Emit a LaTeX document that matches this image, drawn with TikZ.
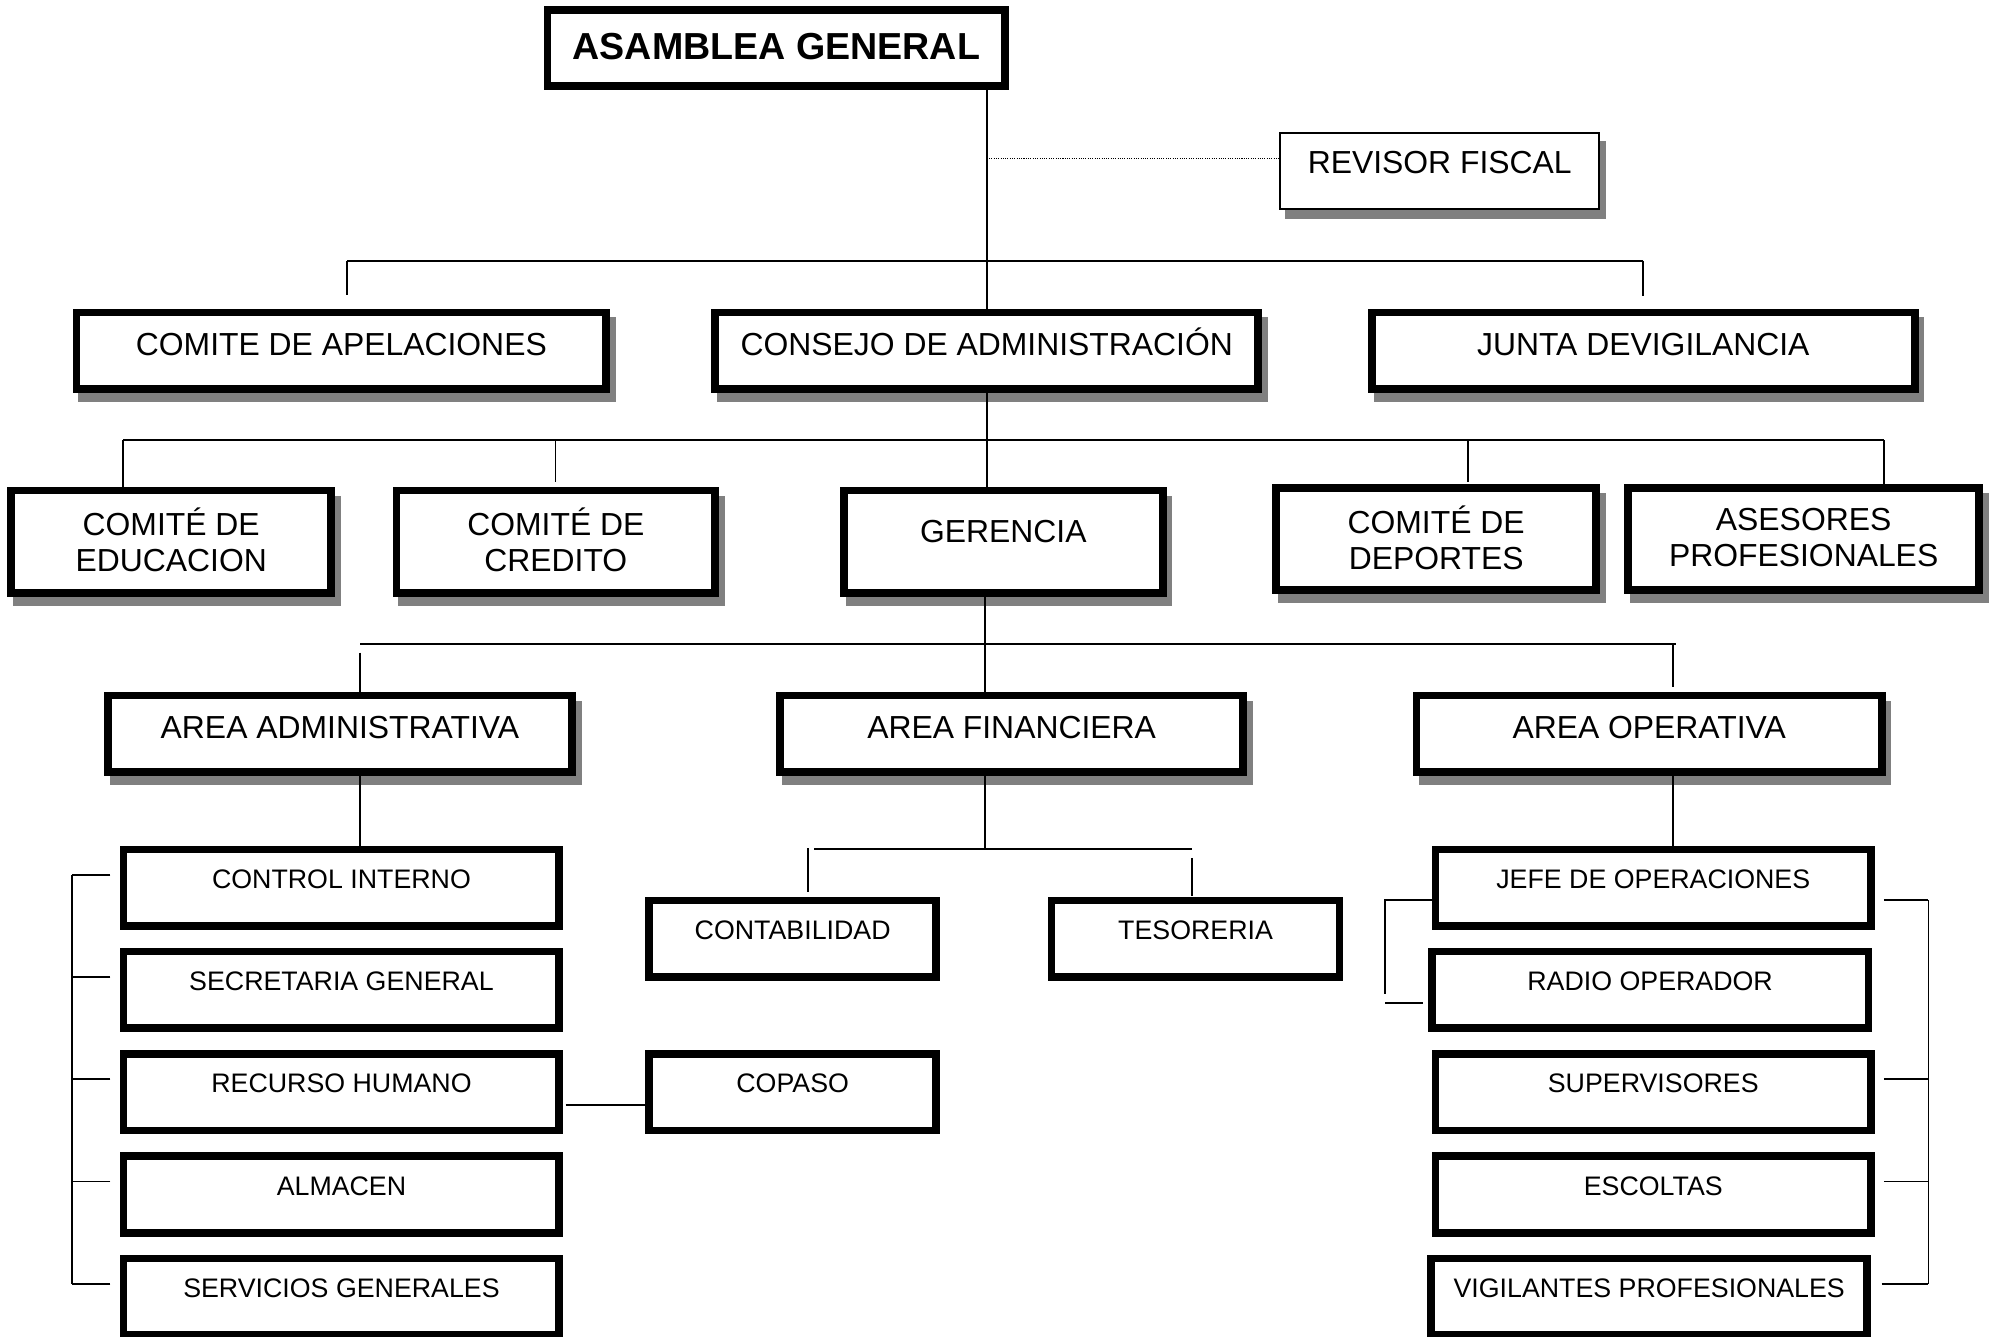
\documentclass[tikz,border=0pt]{standalone}
\usepackage{fontspec}
\setmainfont{Liberation Sans}
\usetikzlibrary{backgrounds}
\definecolor{shadowgray}{RGB}{128,128,128}
\tikzset{
  boxbase/.style={draw, fill=white, inner sep=0pt, align=center, text=black},
  heavybox/.style={boxbase, line width=6pt},
  lbl25/.style={font=\fontsize{25}{29}\selectfont, text height=18.9pt, text depth=11pt},
  lbl25two/.style={font=\fontsize{25}{28.3}\selectfont},
  lbl21/.style={font=\fontsize{21}{25}\selectfont, text height=16pt, text depth=15pt},
  conn/.style={line width=1.4pt},
  dotline/.style={line width=0.8pt, densely dotted},
}
\newcommand\boxshadow[1]{\fill[shadowgray] ([xshift=4.5pt,yshift=-7pt]#1.north west) rectangle ([xshift=4.5pt,yshift=-7pt]#1.south east);}
\newcommand\liftline[1]{\raisebox{2.6pt}{#1}}
\begin{document}
\begin{tikzpicture}[x=1pt,y=-1pt]
\useasboundingbox (0,0) rectangle (1568,1048);

% level 0
\node[heavybox, minimum width=359pt, minimum height=60pt, font=\fontsize{29.5}{33}\selectfont\bfseries, text height=22.3pt, text depth=4pt] (asam) at (609,37.6) {ASAMBLEA GENERAL};
\node[boxbase, line width=1.3pt, minimum width=250.1pt, minimum height=59.6pt, font=\fontsize{25}{29}\selectfont, text height=18.9pt, text depth=15.4pt] (rev) at (1129.3,134.25) {REVISOR FISCAL};

% level 1
\node[heavybox, lbl25, minimum width=415.5pt, minimum height=60pt] (apel) at (267.75,275) {COMITE DE APELACIONES};
\node[heavybox, lbl25, minimum width=426pt, minimum height=60pt] (cons) at (774,275) {CONSEJO DE ADMINISTRACIÓN};
\node[heavybox, lbl25, minimum width=426pt, minimum height=60pt] (junta) at (1289,275) {JUNTA DEVIGILANCIA};

% level 2
\node[heavybox, lbl25two, minimum width=251pt, minimum height=80.3pt] (educ) at (134.3,424.85) {\liftline{COMITÉ DE}\\\liftline{EDUCACION}};
\node[heavybox, lbl25two, minimum width=250pt, minimum height=80.3pt] (cred) at (436,424.85) {\liftline{COMITÉ DE}\\\liftline{CREDITO}};
\node[heavybox, font=\fontsize{25}{29}\selectfont, text height=18.9pt, text depth=17pt, minimum width=250pt, minimum height=80.3pt] (ger) at (787,424.85) {GERENCIA};
\node[heavybox, lbl25two, minimum width=251pt, minimum height=80.3pt] (dep) at (1126.5,422.75) {\liftline{COMITÉ DE}\\\liftline{DEPORTES}};
\node[heavybox, lbl25two, minimum width=275.5pt, minimum height=80.3pt] (ases) at (1414.75,422.75) {\liftline{ASESORES}\\\liftline{PROFESIONALES}};

% level 3
\node[heavybox, lbl25, minimum width=364.2pt, minimum height=60.2pt] (aadm) at (266.6,575.6) {AREA ADMINISTRATIVA};
\node[heavybox, lbl25, minimum width=363pt, minimum height=60.2pt] (afin) at (793.5,575.6) {AREA FINANCIERA};
\node[heavybox, lbl25, minimum width=364.8pt, minimum height=60.2pt] (aope) at (1293.6,575.6) {AREA OPERATIVA};

% level 4
\node[heavybox, lbl21, minimum width=341.7pt, minimum height=60pt] (ctrl) at (267.85,696.3) {CONTROL INTERNO};
\node[heavybox, lbl21, minimum width=341.7pt, minimum height=60pt] (secr) at (267.85,776.3) {SECRETARIA GENERAL};
\node[heavybox, lbl21, minimum width=341.7pt, minimum height=60pt] (rrhh) at (267.85,856.7) {RECURSO HUMANO};
\node[heavybox, lbl21, minimum width=341.7pt, minimum height=60pt] (alm) at (267.85,937) {ALMACEN};
\node[heavybox, lbl21, minimum width=341.7pt, minimum height=60pt] (serv) at (267.85,1017.2) {SERVICIOS GENERALES};

\node[heavybox, lbl21, minimum width=225.1pt, minimum height=60pt] (cont) at (621.75,736.4) {CONTABILIDAD};
\node[heavybox, lbl21, minimum width=225.8pt, minimum height=60pt] (teso) at (937.8,736.4) {TESORERIA};
\node[heavybox, lbl21, minimum width=225.1pt, minimum height=60pt] (copa) at (621.75,856.7) {COPASO};

\node[heavybox, lbl21, minimum width=341.4pt, minimum height=60pt] (jefe) at (1296.8,696.3) {JEFE DE OPERACIONES};
\node[heavybox, lbl21, minimum width=342.4pt, minimum height=60pt] (radio) at (1294.3,776.3) {RADIO OPERADOR};
\node[heavybox, lbl21, minimum width=341.4pt, minimum height=60pt] (sup) at (1296.8,856.7) {SUPERVISORES};
\node[heavybox, lbl21, minimum width=341.4pt, minimum height=60pt] (esc) at (1296.8,937) {ESCOLTAS};
\node[heavybox, lbl21, minimum width=341.8pt, minimum height=60pt] (vig) at (1293.6,1017.2) {VIGILANTES PROFESIONALES};

% shadows
\begin{pgfonlayer}{background}
\foreach \n in {rev,apel,cons,junta,educ,cred,ger,dep,ases,aadm,afin,aope} {\boxshadow{\n}}
\end{pgfonlayer}

% connectors, top
\draw[conn] (asam.south -| cons.north) -- (cons.north);
\coordinate (rvin) at ([yshift=10pt]rev.west);
\draw[dotline] (cons.north |- rvin) -- (rvin);
\coordinate (b1l) at (272.4,204.5);
\coordinate (b1r) at (1289,204.5);
\draw[conn] (b1l) -- (b1r);
\draw[conn] (b1l) -- ++(0,27);
\draw[conn] (b1r) -- ++(0,27.5);

% bus under consejo
\coordinate (b2l) at (96.5,345);
\coordinate (b2r) at (1477.5,345);
\coordinate (b2c) at (435.7,345);
\coordinate (b2d) at (1151.6,345);
\draw[conn] (b2l) -- (b2r);
\draw[conn] (b2l) -- (b2l |- educ.north);
\draw[conn] (b2c) -- ++(0,33);
\draw[conn] (cons.south) -- (cons.south |- ger.north);
\draw[conn] (b2d) -- ++(0,33);
\draw[conn] (b2r) -- (b2r |- ases.north);

% bus under gerencia
\coordinate (gs) at (772.5,468);
\draw[conn] (gs) -- (gs |- afin.north);
\coordinate (b3l) at (282.5,505);
\coordinate (b3r) at (1315,505);
\draw[conn] (b3l) -- (b3r);
\coordinate (v3l) at (282.5,512);
\draw[conn] (v3l) -- (v3l |- aadm.north);
\coordinate (v3r) at (1312,505);
\draw[conn] (v3r) -- ++(0,33.6);

% areas to children
\draw[conn] (aadm.south -| v3l) -- (ctrl.north -| v3l);
\draw[conn] (afin.south -| gs) -- ++(0,57.5);
\coordinate (b4l) at (638.8,666.2);
\coordinate (b4r) at (935,666.2);
\draw[conn] (b4l) -- (b4r);
\coordinate (v4l) at (634,665.5);
\draw[conn] (v4l) -- ++(0,34);
\coordinate (v4r) at (935,673);
\draw[conn] (v4r) -- ++(0,30);
\draw[conn] (aope.south -| v3r) -- (jefe.north -| v3r);

% left bracket (administrativa)
\foreach \n in {ctrl,secr,rrhh,alm,serv} {\draw[conn] ([xshift=-7.5pt,yshift=-22.8pt]\n.north west) -- ++(-30,0);}
\draw[conn] ([xshift=-37.5pt,yshift=-22.8pt]ctrl.north west) -- ([xshift=-37.5pt,yshift=-22.8pt]serv.north west);

% recurso humano - copaso
\draw[line width=1.8pt] ([xshift=2pt,yshift=-43.2pt]rrhh.north east) -- ([yshift=-43.2pt]copa.north west);

% operativa brackets
\draw[conn] ([yshift=-42.7pt]jefe.north west) -- ++(-37,0) -- ++(0,74);
\draw[conn] ([xshift=-4pt,yshift=-43.2pt]radio.north west) -- ++(-30,0);
\draw[conn] ([xshift=7.1pt,yshift=-42.7pt]jefe.north east) -- ++(35,0);
\draw[conn] ([xshift=7.1pt,yshift=-22.9pt]sup.north east) -- ++(35,0);
\draw[conn] ([xshift=7.1pt,yshift=-22.7pt]esc.north east) -- ++(35,0);
\draw[conn] ([xshift=8.5pt,yshift=-22.9pt]vig.north east) -- ++(36.6,0);
\draw[conn] ([xshift=42.1pt,yshift=-42.7pt]jefe.north east) -- ([xshift=45.1pt,yshift=-22.9pt]vig.north east);
\end{tikzpicture}
\end{document}
